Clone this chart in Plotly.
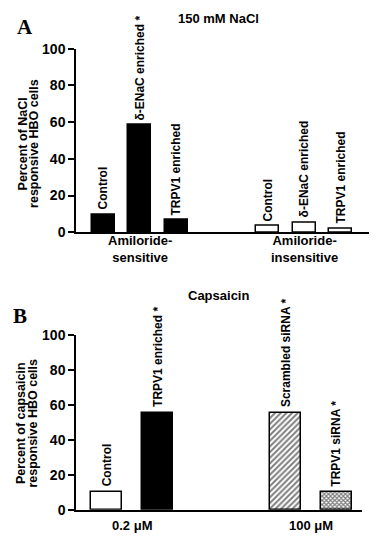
import plotly.graph_objects as go

# ---------------- data ----------------
a_title = "150 mM NaCl"
a_sens_labels = ["Control", "δ-ENaC enriched *", "TRPV1 enriched"]
a_sens_values = [9.7, 58.4, 6.7]
a_insens_labels = ["Control", "δ-ENaC enriched", "TRPV1 enriched"]
a_insens_values = [3.3, 5.3, 2.0]
a_group_labels = ["Amiloride-<br>sensitive", "Amiloride-<br>insensitive"]
a_ytitle = ["Percent of NaCl", "responsive HBO cells"]

b_title = "Capsaicin"
b_labels = ["Control", "TRPV1 enriched *", "Scrambled siRNA *", "TRPV1 siRNA *"]
b_values = [10, 55.2, 55.2, 10]
b_group_labels = ["0.2 μM", "100 μM"]
b_ytitle = ["Percent of capsaicin", "responsive HBO cells"]

y_ticks = [0, 20, 40, 60, 80, 100]

# ---------------- layout helpers ----------------
W, H = 377, 550
FONT = "Liberation Sans, Arial, sans-serif"

def px_x(p):
    return p / W

def px_y(p):
    return 1 - p / H

fig = go.Figure()

# Panel A positions
a_pos_sens = [0, 1, 2]
a_pos_insens = [4.5, 5.5, 6.5]
fig.add_trace(go.Bar(x=a_pos_sens, y=a_sens_values, width=0.63,
                     marker=dict(color="black", line=dict(color="black", width=1.5)),
                     xaxis="x", yaxis="y", showlegend=False, hoverinfo="skip"))
fig.add_trace(go.Bar(x=a_pos_insens, y=a_insens_values, width=0.63,
                     marker=dict(color="white", line=dict(color="black", width=1.5)),
                     xaxis="x", yaxis="y", showlegend=False, hoverinfo="skip"))

# Panel B positions
b_pos = [0, 1, 3.5, 4.5]
fills = ["white", "black", "white", "white"]
patterns = ["", "", "/", "x"]
pat_size = [8, 8, 4, 3]
pat_sol = [0.3, 0.3, 0.5, 0.65]
for i in range(len(b_values)):
    fig.add_trace(go.Bar(
        x=[b_pos[i]], y=[b_values[i]], width=0.61,
        marker=dict(color=fills[i], line=dict(color="black", width=1.5),
                    pattern=dict(shape=patterns[i], fgcolor="black", bgcolor="white",
                                 size=pat_size[i], solidity=pat_sol[i])),
        xaxis="x2", yaxis="y2", showlegend=False, hoverinfo="skip"))

ann = []
lab_font = dict(family=FONT, size=12, color="black", weight="bold")

# bar labels panel A
for pos, v, t in zip(a_pos_sens + a_pos_insens, a_sens_values + a_insens_values,
                     a_sens_labels + a_insens_labels):
    ann.append(dict(x=pos, y=v, xref="x", yref="y", text=t, textangle=-90,
                    showarrow=False, xanchor="center", yanchor="bottom", yshift=3,
                    font=lab_font))
# bar labels panel B
for pos, v, t in zip(b_pos, b_values, b_labels):
    ann.append(dict(x=pos, y=v, xref="x2", yref="y2", text=t, textangle=-90,
                    showarrow=False, xanchor="center", yanchor="bottom", yshift=4,
                    font=lab_font))

grp_font = dict(family=FONT, size=13, color="black", weight="bold")
# group labels panel A
for gi, g in enumerate(a_group_labels):
    pos = [a_pos_sens, a_pos_insens][gi]
    cx = sum(pos) / len(pos)
    ann.append(dict(x=cx, y=px_y(248), xref="x", yref="paper",
                    text=g, showarrow=False, xanchor="center", yanchor="middle",
                    font=grp_font))
# group labels panel B
for gi, g in enumerate(b_group_labels):
    cx = (b_pos[2 * gi] + b_pos[2 * gi + 1]) / 2
    ann.append(dict(x=cx, y=px_y(533.5), xref="x2", yref="paper", text=g,
                    showarrow=False, xanchor="center", yanchor="middle", font=grp_font))

# titles
ann.append(dict(x=px_x(218), y=px_y(11), xref="paper", yref="paper", text=a_title,
                showarrow=False, xanchor="center", yanchor="middle", font=grp_font))
ann.append(dict(x=px_x(218), y=px_y(296), xref="paper", yref="paper", text=b_title,
                showarrow=False, xanchor="center", yanchor="middle", font=grp_font))

# panel letters
let_font = dict(family="Liberation Serif, Times New Roman, serif", size=21, color="black", weight="bold")
ann.append(dict(x=px_x(25), y=px_y(20), xref="paper", yref="paper", text="A",
                showarrow=False, xanchor="center", yanchor="middle", font=let_font))
ann.append(dict(x=px_x(20), y=px_y(317), xref="paper", yref="paper", text="B",
                showarrow=False, xanchor="center", yanchor="middle", font=let_font))

# y-axis titles
yt_font = dict(family=FONT, size=12.5, color="black", weight="bold")
for li, line in enumerate(a_ytitle):
    ann.append(dict(x=px_x(22.5 + 11.5 * li), y=px_y(140), xref="paper", yref="paper",
                    text=line, textangle=-90, showarrow=False, xanchor="center",
                    yanchor="middle", font=yt_font))
for li, line in enumerate(b_ytitle):
    ann.append(dict(x=px_x(20.5 + 12.5 * li), y=px_y(428), xref="paper", yref="paper",
                    text=line, textangle=-90, showarrow=False, xanchor="center",
                    yanchor="middle", font=yt_font))

yaxis_common = dict(range=[0, 100], tickvals=y_ticks, ticks="outside", ticklen=6,
                    tickwidth=1.5, tickcolor="black", showline=True, linecolor="black",
                    linewidth=1.5, showgrid=False, zeroline=False,
                    tickfont=dict(family=FONT, size=14, color="black", weight="bold"),
                    fixedrange=True)
xaxis_common = dict(showline=True, linecolor="black", linewidth=1.5, showgrid=False,
                    zeroline=False, showticklabels=False, ticks="", fixedrange=True)

fig.update_layout(
    width=W, height=H,
    margin=dict(l=0, r=0, t=0, b=0),
    paper_bgcolor="white", plot_bgcolor="white",
    bargap=0,
    xaxis=dict(domain=[px_x(76), px_x(369)], range=[-0.75, 7.27], anchor="y", **xaxis_common),
    yaxis=dict(domain=[px_y(231), px_y(42)], anchor="x", **yaxis_common),
    xaxis2=dict(domain=[px_x(76), px_x(362)], range=[-0.6, 5.0], anchor="y2", **xaxis_common),
    yaxis2=dict(domain=[px_y(516.7), px_y(336.7)], anchor="x2", **yaxis_common),
    annotations=ann,
)

fig.write_html("out.html", config={"displayModeBar": False},
               post_script="document.body.style.margin='0';")
